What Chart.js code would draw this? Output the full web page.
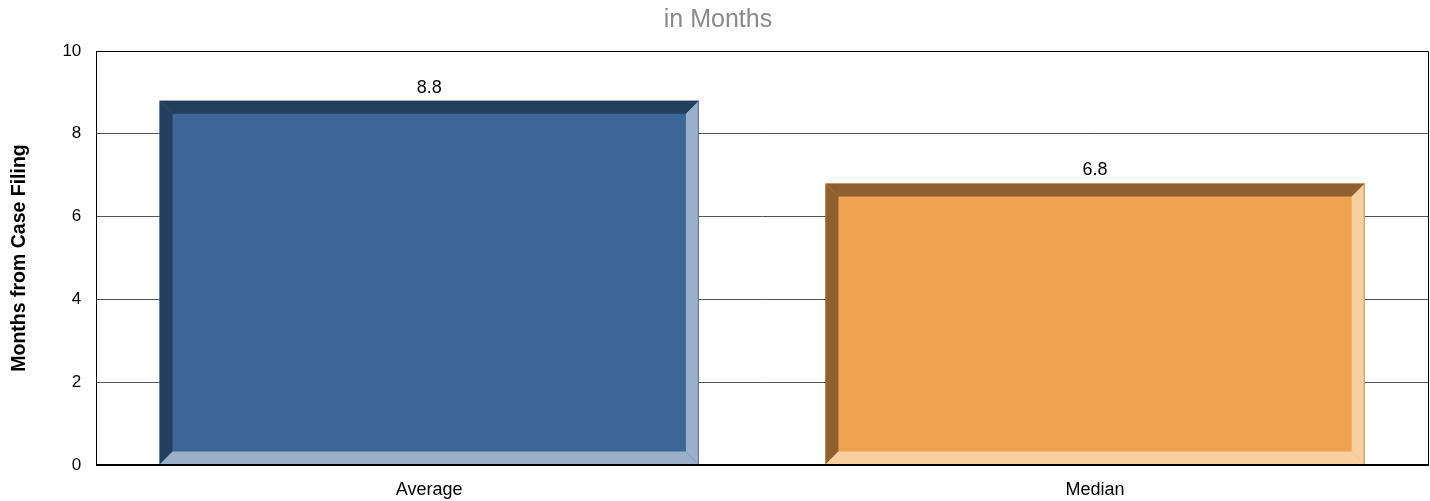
<!DOCTYPE html>
<html>
<head>
<meta charset="utf-8">
<script src="https://cdn.jsdelivr.net/npm/chart.js@4/dist/chart.umd.min.js"></script>
<style>
  html, body { margin: 0; padding: 0; background: #fff; overflow: hidden; }
  canvas { display: block; }
</style>
</head>
<body>
<canvas id="c" width="1430" height="501"></canvas>
<script>
const categories = ["Average", "Median"];
const months = [8.8, 6.8];
const faceColors = ["#3b6696", "#efa352"];
const darkColors = ["#243f5e", "#8e5f2f"];
const lightColors = ["#9ab0c9", "#f8cf9f"];

const FONT = "'Liberation Sans', Arial, sans-serif";
const BEVEL = 13;

// draw the bevelled edges over each bar
const bevelPlugin = {
  id: "bevel",
  afterDatasetsDraw(chart) {
    const ctx = chart.ctx;
    const meta = chart.getDatasetMeta(0);
    meta.data.forEach((bar, i) => {
      const l = bar.x - bar.width / 2;
      const r = bar.x + bar.width / 2;
      const t = bar.y;
      const b = bar.base;
      const poly = (pts, color) => {
        ctx.beginPath();
        ctx.moveTo(pts[0][0], pts[0][1]);
        pts.slice(1).forEach((p) => ctx.lineTo(p[0], p[1]));
        ctx.closePath();
        ctx.fillStyle = color;
        ctx.fill();
      };
      ctx.save();
      poly([[l, t], [r, t], [r - BEVEL, t + BEVEL], [l + BEVEL, t + BEVEL]], darkColors[i]);
      poly([[l, t], [l + BEVEL, t + BEVEL], [l + BEVEL, b - BEVEL], [l, b]], darkColors[i]);
      poly([[r, t], [r, b], [r - BEVEL, b - BEVEL], [r - BEVEL, t + BEVEL]], lightColors[i]);
      poly([[l, b], [l + BEVEL, b - BEVEL], [r - BEVEL, b - BEVEL], [r, b]], lightColors[i]);
      ctx.strokeStyle = darkColors[i];
      ctx.globalAlpha = 0.5;
      ctx.lineWidth = 1;
      ctx.beginPath();
      ctx.moveTo(r - 0.5, t);
      ctx.lineTo(r - 0.5, b);
      ctx.stroke();
      ctx.globalAlpha = 1;
      // value label
      ctx.fillStyle = "#000";
      ctx.font = "18px " + FONT;
      ctx.textAlign = "center";
      ctx.textBaseline = "alphabetic";
      ctx.fillText(months[i].toFixed(1), bar.x, t - 8);
      ctx.restore();
    });
  },
  afterDraw(chart) {
    const a = chart.chartArea;
    const ctx = chart.ctx;
    ctx.save();
    ctx.strokeStyle = "#000";
    ctx.lineWidth = 1;
    ctx.beginPath();
    ctx.moveTo(a.left, a.top + 0.5);
    ctx.lineTo(a.right + 0.5, a.top + 0.5);
    ctx.lineTo(a.right + 0.5, a.bottom);
    ctx.stroke();
    ctx.lineWidth = 2;
    ctx.beginPath();
    ctx.moveTo(a.left, a.bottom);
    ctx.lineTo(a.right + 1, a.bottom);
    ctx.stroke();
    ctx.restore();
  },
};

new Chart(document.getElementById("c"), {
  type: "bar",
  data: {
    labels: categories,
    datasets: [
      {
        data: months,
        backgroundColor: faceColors,
        borderWidth: 0,
        categoryPercentage: 0.81,
        barPercentage: 1,
      },
    ],
  },
  options: {
    responsive: false,
    maintainAspectRatio: false,
    animation: false,
    layout: { padding: { left: 8, right: 2, top: 0, bottom: 0 } },
    plugins: {
      legend: { display: false },
      tooltip: { enabled: false },
      title: {
        display: true,
        text: "in Months",
        color: "#8a8a8a",
        font: { family: FONT, size: 25, weight: "normal" },
        padding: { top: 5, bottom: 16 },
      },
    },
    scales: {
      x: {
        grid: { display: false, drawTicks: false },
        border: { color: "#000", width: 1 },
        ticks: {
          color: "#000",
          padding: 14,
          font: { family: FONT, size: 18 },
        },
        afterFit(scale) {
          scale.height = 36;
        },
      },
      y: {
        min: 0,
        max: 10,
        ticks: {
          stepSize: 2,
          color: "#000",
          padding: 15,
          font: { family: FONT, size: 17 },
        },
        grid: { color: "#555", drawTicks: false },
        border: { color: "#000", width: 1 },
        title: {
          display: true,
          text: "Months from Case Filing",
          color: "#000",
          font: { family: FONT, size: 19.5, weight: "bold" },
          padding: { top: 0, bottom: 16 },
        },
      },
    },
  },
  plugins: [bevelPlugin],
});
</script>
</body>
</html>
